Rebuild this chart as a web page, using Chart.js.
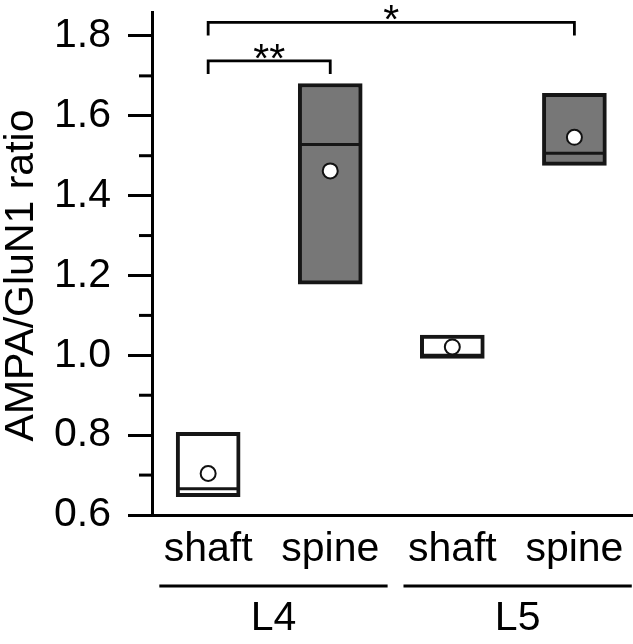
<!DOCTYPE html>
<html><head><meta charset="utf-8">
<script src="https://cdn.jsdelivr.net/npm/chart.js@4.4.1/dist/chart.umd.min.js"></script>
<style>html,body{margin:0;padding:0;background:#fff;}canvas{display:block;}</style>
</head><body>
<canvas id="c" width="633" height="644"></canvas>
<script>
// ---- data ----
const categories = ['shaft', 'spine', 'shaft', 'spine'];
const categoryPos = [1, 2, 3, 4];
const boxLow = [0.646, 1.178, 0.992, 1.476];
const boxHigh = [0.807, 1.681, 1.051, 1.656];
const medians = [0.666, 1.528, 1.0, 1.506];
const means = [0.704, 1.462, 1.021, 1.546];
const boxFill = ['#ffffff', '#777777', '#ffffff', '#777777'];
const majorTicks = [0.6, 0.8, 1.0, 1.2, 1.4, 1.6, 1.8];
const minorTicks = [0.7, 0.9, 1.1, 1.3, 1.5, 1.7];
const groups = ['L4', 'L5'];
const groupStart = [1, 3];
const groupEnd = [2, 4];
const compFrom = [1, 1];
const compTo = [2, 4];
const compY = [1.7375, 1.834];
const compLabel = ['**', '*'];
const yTitle = 'AMPA/GluN1 ratio';

const FONT = "'Liberation Sans', Arial, sans-serif";
Chart.defaults.font.family = FONT;
Chart.defaults.color = '#000';

const annot = {
  id: 'annot',
  afterDraw(chart) {
    const {ctx, chartArea, scales: {x, y}} = chart;
    ctx.save();
    ctx.strokeStyle = '#000';
    ctx.fillStyle = '#000';
    ctx.lineWidth = 3;
    // minor ticks
    minorTicks.forEach(v => {
      const py = y.getPixelForValue(v);
      ctx.beginPath();
      ctx.moveTo(chartArea.left - 13, py);
      ctx.lineTo(chartArea.left, py);
      ctx.stroke();
    });
    // significance brackets
    ctx.lineWidth = 2.8;
    ctx.lineJoin = 'miter';
    ctx.font = '41px ' + FONT;
    ctx.textAlign = 'center';
    ctx.textBaseline = 'alphabetic';
    compFrom.forEach((f, i) => {
      const x1 = x.getPixelForValue(f);
      const x2 = x.getPixelForValue(compTo[i]);
      const py = y.getPixelForValue(compY[i]);
      ctx.beginPath();
      ctx.moveTo(x1, py + 13);
      ctx.lineTo(x1, py);
      ctx.lineTo(x2, py);
      ctx.lineTo(x2, py + 13);
      ctx.stroke();
      ctx.fillText(compLabel[i], (x1 + x2) / 2, py + 11);
    });
    // group lines and labels
    ctx.lineWidth = 3;
    groups.forEach((g, i) => {
      const xa = Math.max(chartArea.left, x.getPixelForValue(groupStart[i] - 0.4));
      const xb = Math.min(chart.width, x.getPixelForValue(groupEnd[i] + 0.47));
      const ly = chartArea.bottom + 71;
      ctx.beginPath();
      ctx.moveTo(xa, ly);
      ctx.lineTo(xb, ly);
      ctx.stroke();
      ctx.fillText(g, (xa + xb) / 2, chartArea.bottom + 115);
    });
    // y-axis title
    ctx.translate(21.5, (chartArea.top + chartArea.bottom) / 2 + 12);
    ctx.rotate(-Math.PI / 2);
    ctx.textBaseline = 'middle';
    ctx.fillText(yTitle, 0, 0);
    ctx.restore();
  }
};

new Chart(document.getElementById('c'), {
  type: 'bar',
  data: {
    datasets: [
      {
        type: 'bar',
        data: categoryPos.map((p, i) => ({x: p, y: [boxLow[i], boxHigh[i]]})),
        backgroundColor: boxFill,
        borderColor: '#161616',
        borderWidth: 4,
        borderSkipped: false,
        barThickness: 64,
        order: 3
      },
      {
        type: 'scatter',
        data: categoryPos.map((p, i) => ({x: p, y: medians[i]})),
        pointStyle: 'line',
        radius: 30,
        borderColor: '#161616',
        borderWidth: 3,
        order: 2
      },
      {
        type: 'scatter',
        data: categoryPos.map((p, i) => ({x: p, y: means[i]})),
        pointStyle: 'circle',
        radius: 7.5,
        backgroundColor: '#ffffff',
        borderColor: '#111111',
        borderWidth: 2,
        order: 1
      }
    ]
  },
  options: {
    responsive: false,
    animation: false,
    events: [],
    layout: {autoPadding: false, padding: {top: 12, left: 0, right: 0, bottom: 0}},
    plugins: {legend: {display: false}, tooltip: {enabled: false}},
    scales: {
      x: {
        type: 'linear',
        offset: false,
        min: 0.54,
        max: 4.48,
        afterBuildTicks(s) { s.ticks = categoryPos.map(v => ({value: v})); },
        afterFit(s) { s.height = 129; s.paddingLeft = 0; s.paddingRight = 0; },
        ticks: {
          callback: v => categories[categoryPos.indexOf(v)],
          font: {size: 41},
          color: '#000',
          padding: 10,
          autoSkip: false,
          maxRotation: 0
        },
        grid: {display: false, drawTicks: false, offset: false},
        border: {display: true, width: 3, color: '#000'}
      },
      y: {
        min: 0.6,
        max: 1.86,
        afterBuildTicks(s) { s.ticks = majorTicks.map(v => ({value: v})); },
        afterFit(s) { s.width = 152; s.paddingTop = 0; s.paddingBottom = 0; },
        ticks: {
          callback: v => Number(v).toFixed(1),
          font: {size: 41},
          color: '#000',
          padding: 17
        },
        grid: {drawOnChartArea: false, drawTicks: true, tickLength: 24, tickWidth: 3, tickColor: '#000'},
        border: {display: true, width: 3, color: '#000'},
        title: {display: false}
      }
    }
  },
  plugins: [annot]
});
</script>
</body></html>
